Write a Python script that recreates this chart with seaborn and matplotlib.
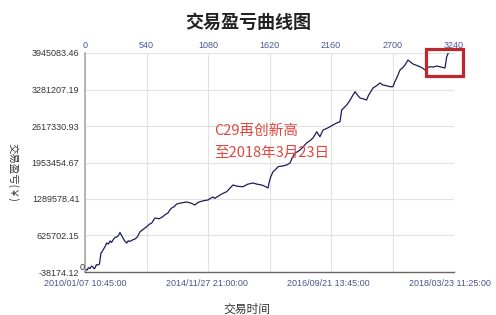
import matplotlib
matplotlib.use("Agg")
import matplotlib.pyplot as plt
import matplotlib.patches as patches
import seaborn as sns
import pandas as pd

# ---- data ----
trade_index = [0, 10, 18, 30, 44, 57, 70, 80, 88, 100, 114, 127, 140, 150, 158, 175, 190,
               205, 220, 233, 246, 262, 278, 292, 307, 320, 334, 350, 366, 380, 395, 417,
               439, 460, 483, 512, 542, 565, 586, 600, 615, 650, 685, 707, 729, 745, 761,
               783, 805, 850, 893, 930, 966, 990, 1010, 1045, 1080, 1100, 1124, 1140, 1156,
               1170, 1185, 1215, 1244, 1270, 1299, 1340, 1387, 1430, 1475, 1510, 1551, 1580,
               1607, 1618, 1630, 1651, 1675, 1695, 1735, 1771, 1800, 1822, 1844, 1866, 1888,
               1916, 1946, 1975, 2002, 2020, 2034, 2063, 2090, 2120, 2151, 2180, 2210, 2239,
               2254, 2275, 2298, 2325, 2353, 2371, 2392, 2415, 2445, 2473, 2488, 2502, 2529,
               2560, 2590, 2616, 2648, 2678, 2704, 2720, 2737, 2766, 2790, 2810, 2836, 2858,
               2880, 2910, 2941, 2965, 2985, 3010, 3029, 3060, 3088, 3125, 3161, 3176, 3190]
profit = [-38174, 5000, -2000, 40000, 25500, 70000, 52800, 20000, 34600, 95000, 89100,
          107300, 307400, 330000, 362000, 420000, 489300, 470000, 525700, 500000, 543900,
          590000, 598400, 620000, 680300, 630000, 580200, 520000, 489300, 530000, 516600,
          545000, 562000, 600000, 694800, 740000, 785700, 830000, 853000, 900000, 944000,
          930000, 971300, 1010000, 1035000, 1090000, 1125900, 1150000, 1198700, 1220000,
          1235100, 1215000, 1180400, 1225000, 1240400, 1260000, 1271400, 1300000, 1326000,
          1300000, 1326000, 1340000, 1362300, 1395000, 1422400, 1480000, 1544000, 1520000,
          1513300, 1560000, 1580600, 1560000, 1544000, 1520000, 1489600, 1600000, 1689700,
          1786100, 1830000, 1877000, 1890000, 1908000, 1944400, 2050000, 2126300, 2150000,
          2180800, 2240000, 2308200, 2350000, 2399100, 2460000, 2513700, 2422800, 2544600,
          2570000, 2604700, 2640000, 2671800, 2695600, 2908400, 2950000, 2999300, 3080000,
          3181200, 3241200, 3180000, 3126600, 3110000, 3090200, 3170000, 3217600, 3308500,
          3350000, 3399500, 3363100, 3350000, 3332200, 3332200, 3420000, 3490500, 3636000,
          3680000, 3726900, 3817900, 3780000, 3745100, 3720000, 3696000, 3670000, 3636000,
          3680000, 3696000, 3690000, 3708700, 3690000, 3672400, 3877900, 3945083.46]

y_ticks = [-38174.12, 625702.15, 1289578.41, 1953454.67, 2617330.93, 3281207.19, 3945083.46]
y_tick_labels = ["-38174.12", "625702.15", "1289578.41", "1953454.67", "2617330.93",
                 "3281207.19", "3945083.46"]
top_ticks = [0, 540, 1080, 1620, 2160, 2700, 3240]
date_positions = [0, 1067, 2133, 3200]
date_labels = ["2010/01/07 10:45:00", "2014/11/27 21:00:00", "2016/09/21 13:45:00",
               "2018/03/23 11:25:00"]

title = "交易盈亏曲线图"
x_label = "交易时间"
y_label = "交易盈亏(￥)"
note_lines = ["C29再创新高", "至2018年3月23日"]

# ---- style ----
sns.set_style("white")
plt.rcParams["font.family"] = ["Liberation Sans", "Noto Sans CJK SC", "DejaVu Sans"]
cjk = ["Noto Sans CJK SC", "DejaVu Sans"]

fig = plt.figure(figsize=(4.96, 3.15), dpi=100)
ax = fig.add_axes([85 / 496, 1 - 272 / 315, (454 - 85) / 496, (272 - 53) / 315])

df = pd.DataFrame({"idx": trade_index, "profit": profit})
sns.lineplot(data=df, x="idx", y="profit", ax=ax, color="#1c1c5a", linewidth=0.9)

ax.set_xlim(0, 3240)
ax.set_ylim(y_ticks[0], y_ticks[-1])

label_blue = "#4a5590"
ax.set_yticks(y_ticks)
ax.set_yticklabels(y_tick_labels, fontsize=6.5, color="#333333")
ax.tick_params(axis="y", length=0, pad=4)

ax.set_xticks(top_ticks)
ax.xaxis.tick_top()
ax.set_xticklabels([str(t) for t in top_ticks], fontsize=6.5, color=label_blue)
ax.tick_params(axis="x", length=0, pad=2)

sec = ax.secondary_xaxis("bottom")
sec.set_xticks(date_positions)
sec.set_xticklabels(date_labels, fontsize=6.5, color=label_blue)
sec.tick_params(length=0, pad=5)
sec.spines["bottom"].set_visible(False)

ax.grid(True, color="#e2e2e2", linewidth=0.8)
ax.set_axisbelow(True)
for s in ["top", "right"]:
    ax.spines[s].set_visible(False)
ax.spines["left"].set_color("#a8a8a8")
ax.spines["left"].set_linewidth(1.2)
ax.spines["bottom"].set_color("#666666")
ax.spines["bottom"].set_linewidth(1.0)
ax.set_xlabel("")
ax.set_ylabel("")

fig.text(0.5, 1 - 22 / 315, title, ha="center", va="center", fontsize=13,
         fontweight="bold", family=cjk, color="#222222")
fig.text(247 / 496, 1 - 309 / 315, x_label, ha="center", va="center", fontsize=8.5,
         family=cjk, color="#333333")
fig.text(13 / 496, 1 - 172 / 315, y_label, ha="center", va="center", fontsize=7.5,
         family=cjk, color="#333333", rotation=270)
fig.text(80 / 496, 1 - 268 / 315, "0", ha="left", va="center", fontsize=6.5,
         color="#333333")

note_color = "#e0473f"
fig.text(214 / 496, 1 - 131 / 315, note_lines[0], ha="left", va="center",
         fontsize=10.5, family=cjk, color=note_color)
fig.text(214 / 496, 1 - 153 / 315, note_lines[1], ha="left", va="center",
         fontsize=10.5, family=cjk, color=note_color)

rect = patches.Rectangle((426 / 496, 1 - 76 / 315), 37 / 496, 27 / 315,
                         transform=fig.transFigure, fill=False,
                         edgecolor="#c0272d", linewidth=2.3, clip_on=False)
fig.patches.append(rect)

fig.savefig("out.png", dpi=100)
